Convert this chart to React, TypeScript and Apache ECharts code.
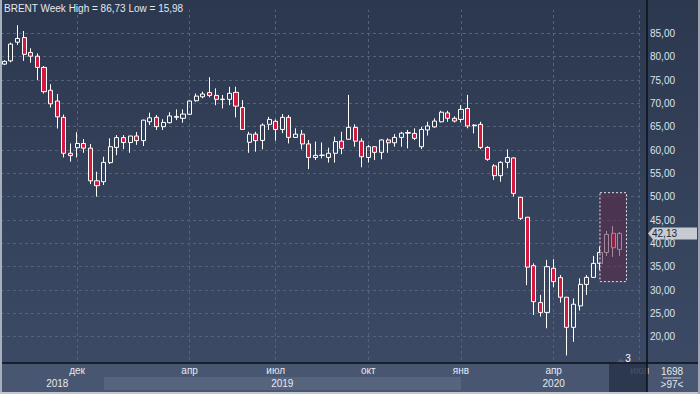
import React, { useEffect, useRef } from 'react';
import * as echarts from 'echarts';

// Weekly BRENT candles (open, close, low, high)
const opens = [78.4, 79.1, 83.1, 84.1, 80.9, 80.1, 77.7, 72.8, 70.5, 67.0, 59.3, 60.5, 61.4, 60.4, 53.4, 53.2, 57.3, 60.55, 62.65, 61.6, 63.0, 62.0, 66.05, 67.0, 65.0, 65.85, 67.0, 66.8, 67.65, 70.55, 71.4, 72.3, 71.7, 70.9, 70.85, 72.35, 69.1, 61.65, 63.4, 62.05, 65.5, 66.15, 64.4, 67.0, 62.7, 63.4, 61.3, 58.4, 58.85, 58.4, 59.3, 61.9, 62.3, 64.85, 61.9, 58.4, 60.7, 59.5, 62.15, 61.55, 62.7, 63.6, 63.55, 60.7, 64.3, 64.95, 66.05, 67.95, 66.8, 66.55, 68.9, 65.2, 65.5, 60.55, 56.6, 54.5, 57.35, 58.3, 49.85, 45.6, 35.2, 27.3, 25.2, 34.65, 32.65, 28.45, 22.0, 26.6, 31.2, 32.7, 35.7, 38.05, 42.15, 38.7];
const closes = [79.0, 82.7, 83.9, 80.5, 80.1, 77.7, 72.5, 69.9, 67.1, 59.3, 58.8, 61.4, 60.4, 53.4, 52.35, 57.35, 60.7, 62.65, 61.6, 63.0, 62.0, 66.4, 66.9, 65.0, 65.9, 67.3, 67.2, 67.7, 70.5, 71.55, 72.0, 71.7, 70.85, 70.8, 72.15, 69.4, 64.4, 63.4, 62.0, 65.35, 66.55, 64.4, 67.0, 62.7, 63.4, 61.3, 58.4, 58.85, 58.9, 59.3, 61.8, 60.35, 64.85, 61.9, 58.55, 60.7, 59.5, 62.15, 61.55, 62.7, 63.6, 63.75, 62.5, 64.4, 65.15, 66.2, 68.1, 66.8, 66.2, 68.7, 65.15, 65.35, 60.55, 58.0, 54.5, 57.35, 58.4, 50.7, 45.35, 34.9, 27.5, 25.2, 35.0, 31.8, 28.45, 22.0, 26.95, 31.2, 32.7, 35.7, 38.05, 41.9, 39.05, 42.13];
const lows = [78.2, 78.8, 82.5, 79.1, 78.7, 75.0, 72.1, 69.1, 64.6, 58.4, 57.5, 58.4, 59.4, 52.7, 50.0, 52.5, 57.0, 58.9, 60.2, 59.4, 61.1, 60.85, 65.35, 64.3, 64.3, 65.7, 66.4, 65.85, 67.5, 70.35, 71.1, 71.3, 69.6, 68.9, 69.6, 67.0, 64.3, 59.4, 59.65, 60.15, 64.3, 62.0, 63.6, 61.4, 62.6, 60.15, 55.9, 57.85, 58.2, 57.3, 57.3, 59.1, 62.2, 60.7, 56.3, 57.3, 57.85, 58.0, 59.4, 60.7, 60.7, 60.35, 62.15, 60.2, 63.1, 64.8, 65.9, 66.05, 65.9, 65.9, 64.65, 63.55, 60.2, 57.7, 53.6, 53.2, 56.1, 50.0, 45.0, 31.05, 24.65, 24.3, 21.8, 30.6, 27.3, 15.98, 18.9, 25.6, 28.95, 32.6, 34.3, 37.3, 37.1, 37.3];
const highs = [79.2, 83.0, 86.73, 85.5, 81.8, 80.7, 78.0, 74.1, 72.0, 67.6, 61.4, 63.8, 62.35, 61.3, 55.35, 58.55, 62.5, 63.2, 63.2, 63.0, 63.85, 66.5, 68.0, 67.5, 66.6, 68.1, 68.7, 68.7, 70.6, 72.1, 72.5, 75.6, 73.2, 71.8, 73.55, 73.55, 70.7, 63.9, 63.9, 65.7, 67.1, 66.55, 67.7, 67.5, 64.65, 64.3, 62.15, 61.8, 61.6, 60.5, 62.85, 63.9, 71.8, 65.5, 62.5, 61.1, 60.7, 62.3, 62.5, 63.4, 63.9, 64.3, 64.65, 64.95, 66.05, 66.8, 68.4, 68.4, 67.2, 69.6, 71.8, 65.5, 66.05, 60.8, 56.95, 57.6, 60.15, 58.4, 50.0, 45.6, 35.7, 28.95, 36.45, 36.6, 33.2, 28.45, 28.2, 32.5, 33.2, 37.3, 39.3, 42.65, 43.7, 42.4];

const totalSlots = 97; // visible bars (">97<")
const categories = Array.from({ length: totalSlots }, (_, i) => `W${i + 1}`);
const monthTickIndex = [11, 28, 41, 55, 69, 83, 96];
const monthTickLabels = ['дек', 'апр', 'июл', 'окт', 'янв', 'апр', 'июл'];
const yearTickIndex = [8, 42, 83];
const yearTickLabels = ['2018', '2019', '2020'];
const yMin = 15;
const yMax = 90;
const yStep = 5;
const lastPrice = 42.13;
const zoneStart = 90;
const zoneEnd = 94;
const zoneHigh = 50.85;
const zoneLow = 31.8;
const titleText = 'BRENT Week High = 86,73 Low = 15,98';
const totalBars = '1698';
const visibleBars = '>97<';
const pendingText = '3';

const FONT = '"Liberation Sans", Arial, sans-serif';
const fmt = (v: number) => v.toFixed(2).replace('.', ',');

export default function App() {
  const ref = useRef<HTMLDivElement>(null);
  useEffect(() => {
    if (!ref.current) return;
    const chart = echarts.init(ref.current, undefined, { renderer: 'svg' });
    const candleData = opens.map((o, i) => [o, closes[i], lows[i], highs[i]]);
    chart.setOption({
      animation: false,
      backgroundColor: new echarts.graphic.LinearGradient(0, 0, 0, 1, [
        { offset: 0, color: '#2c384e' },
        { offset: 1, color: '#3d4b67' },
      ]),
      title: {
        text: titleText,
        left: 4,
        top: 3,
        padding: 0,
        textStyle: { fontSize: 10, fontWeight: 'normal', color: '#e4e8ee', fontFamily: FONT },
      },
      grid: { left: 1, right: 57, top: 10, bottom: 34 },
      xAxis: [
        {
          type: 'category',
          data: categories,
          position: 'bottom',
          offset: 3,
          z: 3,
          axisLine: { show: false },
          axisTick: { show: false },
          splitLine: { show: false },
          axisLabel: {
            interval: (idx: number) => monthTickIndex.includes(idx),
            formatter: (_v: string, idx: number) => {
              const k = monthTickIndex.indexOf(idx);
              return k >= 0 ? monthTickLabels[k] : '';
            },
            color: '#e6eaf0',
            fontSize: 10,
            fontFamily: FONT,
            margin: 2,
          },
        },
        {
          type: 'category',
          data: categories,
          position: 'bottom',
          offset: 16,
          z: 3,
          axisLine: { show: false },
          axisTick: { show: false },
          splitLine: { show: false },
          axisLabel: {
            interval: (idx: number) => yearTickIndex.includes(idx),
            formatter: (_v: string, idx: number) => {
              const k = yearTickIndex.indexOf(idx);
              return k >= 0 ? yearTickLabels[k] : '';
            },
            color: '#e6eaf0',
            fontSize: 10,
            fontFamily: FONT,
            margin: 2,
          },
        },
      ],
      yAxis: {
        type: 'value',
        position: 'right',
        min: yMin,
        max: yMax,
        interval: yStep,
        offset: 4,
        axisLine: { show: false },
        axisTick: { show: false },
        axisLabel: {
          color: '#dde3ec',
          fontSize: 10,
          fontFamily: FONT,
          margin: 3,
          showMinLabel: false,
          showMaxLabel: false,
          formatter: (v: number) => fmt(v),
        },
        splitLine: {
          showMinLine: false,
          showMaxLine: false,
          lineStyle: { color: '#55627c', type: [3, 3], width: 1 },
        },
      },
      series: [
        {
          type: 'candlestick',
          data: candleData,
          barWidth: 4.6,
          z: 2,
          itemStyle: {
            color: 'transparent',
            color0: '#d11a3e',
            borderColor: '#ffffff',
            borderColor0: '#ffffff',
            borderWidth: 1,
          },
          markLine: {
            silent: true,
            symbol: 'none',
            z: 1,
            label: { show: false },
            lineStyle: { color: '#55627c', type: [3, 3], width: 1 },
            data: monthTickIndex.map((i) => ({ xAxis: categories[i] })),
          },
          markArea: {
            silent: true,
            z: 10,
            itemStyle: {
              color: 'rgba(92,42,72,0.55)',
              borderColor: '#e6e6ee',
              borderWidth: 1,
              borderType: [2, 2],
            },
            data: [[
              { xAxis: categories[zoneStart], yAxis: zoneHigh },
              { xAxis: categories[zoneEnd], yAxis: zoneLow },
            ]],
          },
        },
      ],
    });

    const ty = chart.convertToPixel({ yAxisIndex: 0 }, lastPrice) as number;
    chart.setOption({
      graphic: [
        { type: 'rect', z: 1, shape: { x: 0, y: 363, width: 700, height: 30 }, style: { fill: '#485671' } },
        { type: 'rect', z: 1, shape: { x: 104, y: 377, width: 357, height: 13 }, style: { fill: '#56647e' } },
        { type: 'rect', z: 8, shape: { x: 609, y: 364, width: 38, height: 28 }, style: { fill: 'rgba(40,51,72,0.85)' } },
        { type: 'polygon', z: 8, shape: { points: [[616, 363], [621, 359], [626, 363]] }, style: { fill: '#5a6174' } },
        { type: 'text', z: 9, x: 628, y: 358, style: { text: pendingText, fill: '#ffffff', fontSize: 10, fontFamily: FONT, align: 'center', verticalAlign: 'middle' } },
        { type: 'line', z: 9, shape: { x1: 0, y1: 363, x2: 700, y2: 363 }, style: { stroke: '#0b1019', lineWidth: 1.5 } },
        { type: 'line', z: 9, shape: { x1: 647, y1: 0, x2: 647, y2: 392 }, style: { stroke: '#0b1019', lineWidth: 1.5 } },
        { type: 'rect', z: 9, shape: { x: 0, y: 0, width: 2, height: 394 }, style: { fill: '#a9b0bd' } },
        { type: 'rect', z: 9, shape: { x: 0, y: 392, width: 700, height: 2 }, style: { fill: '#c3c7cf' } },
        { type: 'rect', z: 9, shape: { x: 698, y: 0, width: 2, height: 394 }, style: { fill: '#9ca4b3' } },
        { type: 'text', z: 9, x: 672, y: 371, style: { text: totalBars, fill: '#e6eaf0', fontSize: 10, fontFamily: FONT, align: 'center', verticalAlign: 'middle' } },
        { type: 'line', z: 9, shape: { x1: 663, y1: 378, x2: 681, y2: 378 }, style: { stroke: '#c8ccd4', lineWidth: 1 } },
        { type: 'text', z: 9, x: 672, y: 384, style: { text: visibleBars, fill: '#e6eaf0', fontSize: 10, fontFamily: FONT, align: 'center', verticalAlign: 'middle' } },
        {
          type: 'polygon',
          z: 9,
          shape: { points: [[648, ty], [653, ty - 6], [697, ty - 6], [697, ty + 6], [653, ty + 6]] },
          style: { fill: '#c6cad2' },
        },
        { type: 'text', z: 10, x: 652, y: ty, style: { text: fmt(lastPrice), fill: '#1d2433', fontSize: 10, fontFamily: FONT, verticalAlign: 'middle' } },
      ],
    });
    return () => chart.dispose();
  }, []);
  return <div ref={ref} style={{ position: 'fixed', left: 0, top: 0, width: 700, height: 394 }} />;
}
